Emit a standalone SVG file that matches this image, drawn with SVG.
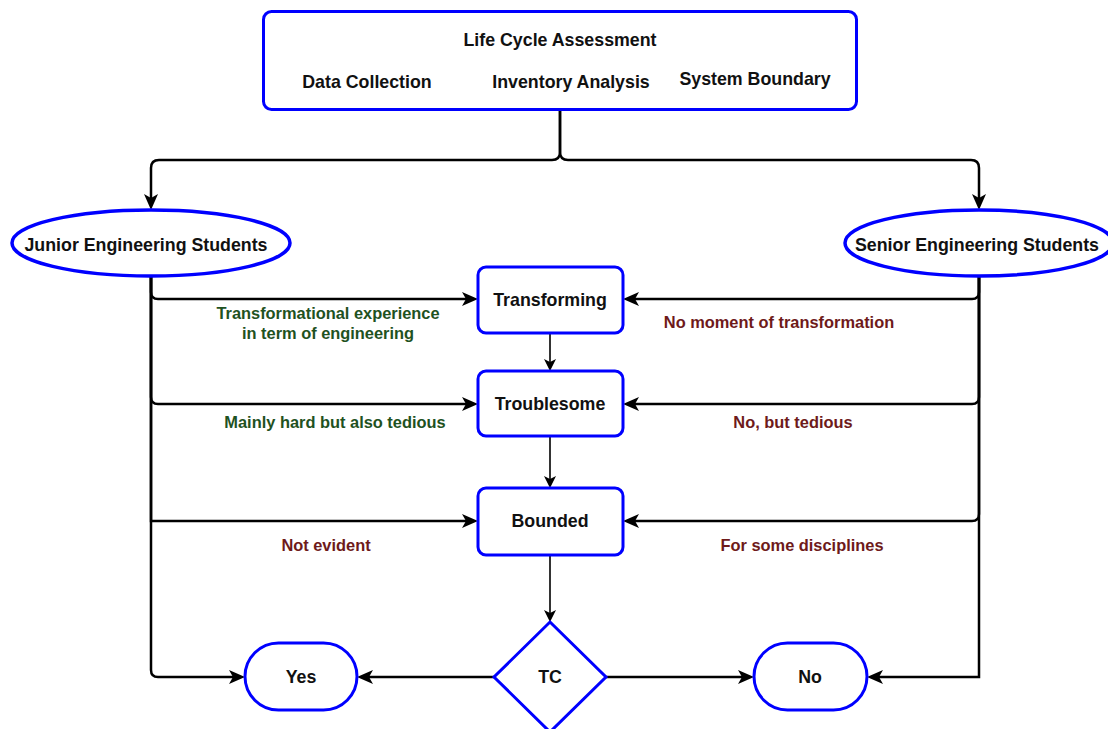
<svg xmlns="http://www.w3.org/2000/svg" width="1108" height="729" viewBox="0 0 1108 729">
  <style>
    .node { fill: #ffffff; stroke: #0000ff; stroke-width: 3; }
    .oval { fill: #ffffff; stroke: #0000ff; stroke-width: 3.5; }
    .t { font-family: "Liberation Sans", Arial, sans-serif; font-weight: bold; font-size: 17.8px; fill: #111111; text-anchor: middle; }
    .lbl { font-family: "Liberation Sans", Arial, sans-serif; font-weight: bold; font-size: 16.4px; text-anchor: middle; }
    .green { fill: #1f521f; }
    .red { fill: #6e1a1a; }
    .edge { fill: none; stroke: #000000; stroke-width: 2.5; marker-end: url(#arr); }
    .edge-thin { fill: none; stroke: #000000; stroke-width: 1.6; marker-end: url(#arrs); }
  </style>
  <defs>
    <marker id="arr" markerUnits="userSpaceOnUse" viewBox="0 -8 18 16" markerWidth="18" markerHeight="16" refX="6" refY="0" orient="auto" overflow="visible">
      <path d="M0,-7 L16,0 L0,7 L4,0 Z" fill="#000000"/>
    </marker>
    <marker id="arrs" markerUnits="userSpaceOnUse" viewBox="0 -7 14 14" markerWidth="14" markerHeight="14" refX="5" refY="0" orient="auto" overflow="visible">
      <path d="M0,-6 L12,0 L0,6 L3,0 Z" fill="#000000"/>
    </marker>
  </defs>

  <rect width="1108" height="729" fill="#ffffff"/>

  <!-- connectors -->
  <g id="connectors">
    <!-- split from the assessment box -->
    <path class="edge" d="M560,110 V152 Q560,160 552,160 H159 Q151,160 151,168 V200"/>
    <path class="edge" d="M560,110 V152 Q560,160 568,160 H971 Q979,160 979,168 V200"/>

    <!-- junior students -->
    <path class="edge" d="M151,276 V292 Q151,299 158,299 H468"/>
    <path class="edge" d="M151,276 V397 Q151,404 158,404 H468"/>
    <path class="edge" d="M151,276 V521 H468"/>
    <path class="edge" d="M151,276 V670 Q151,677 158,677 H235"/>

    <!-- senior students -->
    <path class="edge" d="M979,276 V292 Q979,299 972,299 H633"/>
    <path class="edge" d="M979,276 V397 Q979,404 972,404 H633"/>
    <path class="edge" d="M979,276 V514 Q979,521 972,521 H633"/>
    <path class="edge" d="M979,276 V677 H877"/>

    <!-- central chain -->
    <path class="edge-thin" d="M550,333 V364"/>
    <path class="edge-thin" d="M550,436 V481"/>
    <path class="edge-thin" d="M550,555 V615"/>

    <!-- decision outcomes -->
    <path class="edge" d="M494,677 H367"/>
    <path class="edge" d="M606,677 H744"/>
  </g>

  <!-- edge labels -->
  <g id="labels">
    <text class="lbl green" x="328" y="319">Transformational experience</text>
    <text class="lbl green" x="328" y="339">in term of engineering</text>
    <text class="lbl green" x="335" y="428">Mainly hard but also tedious</text>
    <text class="lbl red" x="779" y="328">No moment of transformation</text>
    <text class="lbl red" x="793" y="428">No, but tedious</text>
    <text class="lbl red" x="326" y="551">Not evident</text>
    <text class="lbl red" x="802" y="551">For some disciplines</text>
  </g>

  <g id="lca">
    <rect class="node" x="263.5" y="11.5" width="593" height="98" rx="8"/>
    <text class="t" x="560" y="46">Life Cycle Assessment</text>
    <text class="t" x="367" y="88">Data Collection</text>
    <text class="t" x="571" y="88">Inventory Analysis</text>
    <text class="t" x="755" y="85">System Boundary</text>
  </g>

  <g id="junior">
    <ellipse class="oval" cx="151" cy="243" rx="139" ry="33"/>
    <text class="t" x="146" y="251">Junior Engineering Students</text>
  </g>

  <g id="senior">
    <ellipse class="oval" cx="979" cy="243" rx="134" ry="33"/>
    <text class="t" x="977" y="251">Senior Engineering Students</text>
  </g>

  <g id="transforming">
    <rect class="node" x="478" y="267" width="145" height="66" rx="8"/>
    <text class="t" x="550" y="306">Transforming</text>
  </g>

  <g id="troublesome">
    <rect class="node" x="478" y="371" width="145" height="65" rx="8"/>
    <text class="t" x="550" y="410">Troublesome</text>
  </g>

  <g id="bounded">
    <rect class="node" x="478" y="488" width="145" height="67" rx="8"/>
    <text class="t" x="550" y="527">Bounded</text>
  </g>

  <g id="tc">
    <polygon class="node" points="550,622 606,677 550,732 494,677"/>
    <text class="t" x="550" y="683">TC</text>
  </g>

  <g id="yes">
    <rect class="node" x="245" y="643" width="112" height="67" rx="33.5"/>
    <text class="t" x="301" y="683">Yes</text>
  </g>

  <g id="no">
    <rect class="node" x="754" y="643" width="113" height="67" rx="33.5"/>
    <text class="t" x="810" y="683">No</text>
  </g>
</svg>
